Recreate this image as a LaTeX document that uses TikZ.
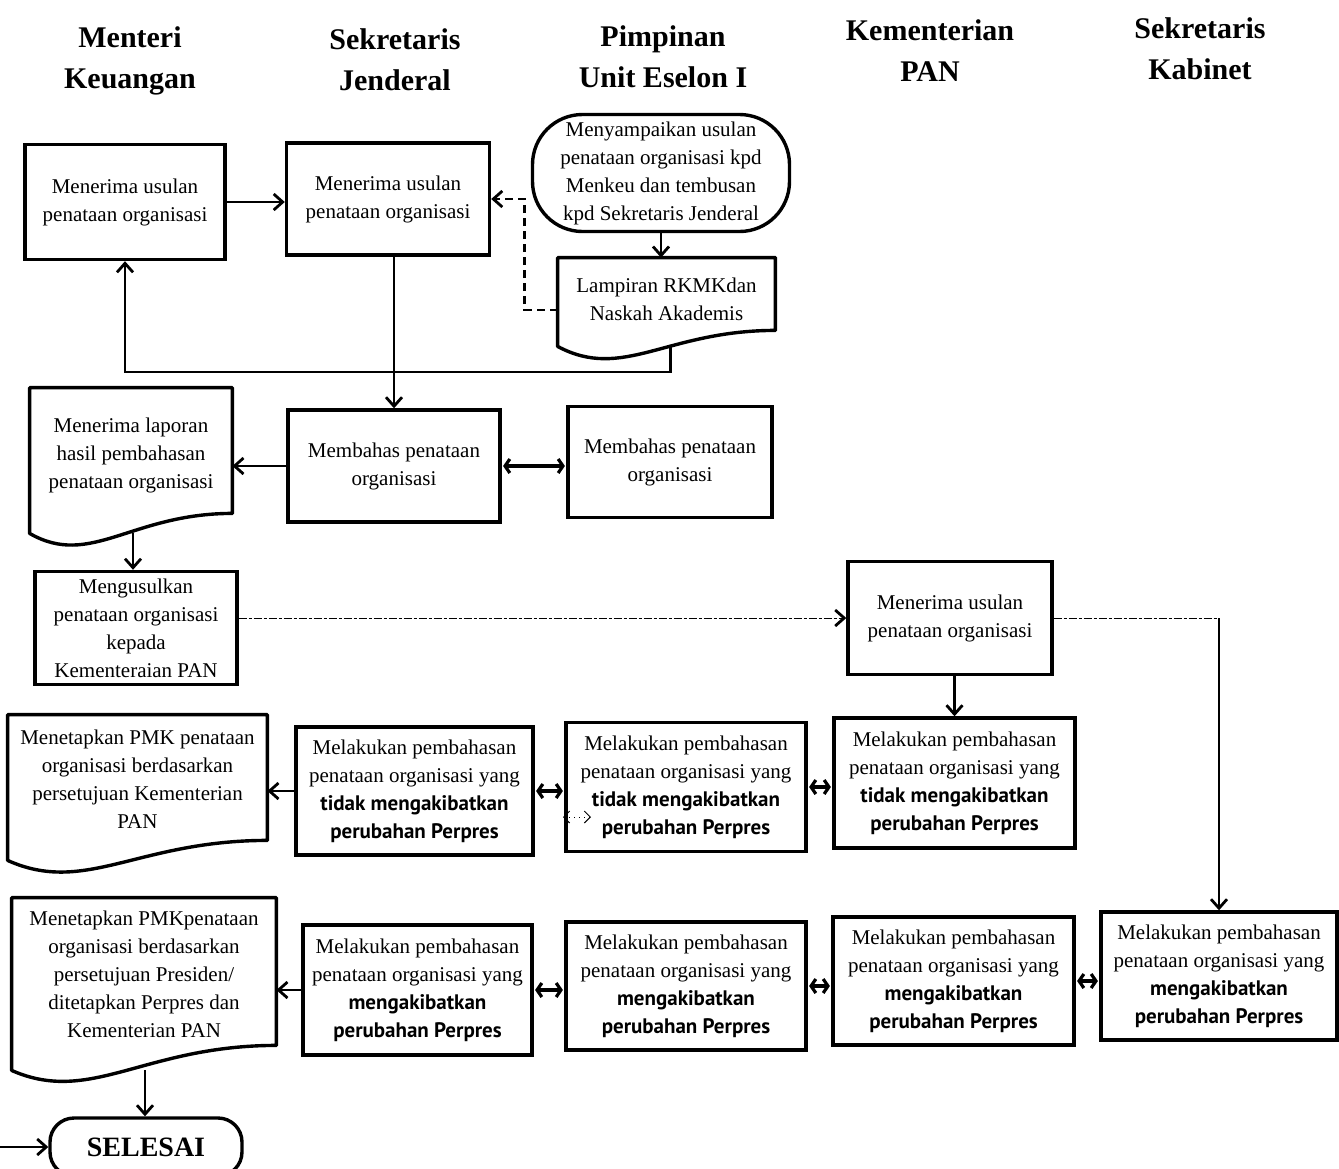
\documentclass[tikz,border=0pt]{standalone}
\usepackage{fontspec}
\setmainfont{Liberation Serif}
\newfontfamily\boldsans{PT Sans}
\usetikzlibrary{arrows.meta,calc}
\newcommand\docpath[3]{%
  \draw[docln] (#1.north west) -- (#1.north east) -- ($(#1.south east)+(0,#2-#3)$)
    .. controls ($(#1.south)+(0,#2-#3)$) and ($(#1.south west)!0.3!(#1.south east)+(0,#2+35)$)
    .. ($(#1.south west)+(0,#2)$) -- cycle;}
\newcommand\bs[1]{{\boldsans\bfseries #1}}
\begin{document}
\begin{tikzpicture}[x=0.5pt,y=-0.5pt,
  sz/.style 2 args={minimum width=#1*0.5pt, minimum height=#2*0.5pt},
  proc/.style={draw, line width=1.7pt, align=center, inner sep=0pt, font=\fontsize{10.5}{14}\selectfont},
  docn/.style={align=center, inner sep=0pt, font=\fontsize{10.5}{14}\selectfont},
  docln/.style={draw, line width=1.7pt, line join=round},
  hdr/.style={align=center, font=\fontsize{15}{20.5}\selectfont\bfseries},
  tip/.tip={Straight Barb[length=4.5pt,width=8pt,line width=1.4pt]},
  stip/.tip={Straight Barb[length=2.4pt,width=7pt,line width=1.6pt]},
  arr/.style={line width=1.1pt, -tip},
  darr/.style={line width=1.6pt, stip-stip, shorten <=0.7pt, shorten >=0.7pt},
  dasharr/.style={line width=1.3pt, dash pattern=on 4pt off 2.5pt, -tip},
  thindash/.style={line width=0.5pt, dash pattern=on 4pt off 1pt on 1.5pt off 1pt}
]
\fill[white] (0,0) rectangle (1339,1168);
\useasboundingbox (0,0) rectangle (1339,1168);

% headers
\node[hdr] (h1) at (130,61) {Menteri\\Keuangan};
\node[hdr] (h2) at (395,60) {Sekretaris\\Jenderal};
\node[hdr] (h3) at (663,57) {Pimpinan\\Unit Eselon I};
\node[hdr] (h4) at (930,51) {Kementerian\\PAN};
\node[hdr] (h5) at (1200,49) {Sekretaris\\Kabinet};

% row 1
\node[proc, sz={200}{115}] (mk1) at (125,202) {Menerima usulan\\penataan organisasi};
\node[proc, sz={203}{112}] (sj1) at (388,199) {Menerima usulan\\penataan organisasi};
\node[proc, rounded corners=25pt, sz={257}{117}] (term) at (661,173)
  {Menyampaikan usulan\\penataan organisasi kpd\\Menkeu dan tembusan\\kpd Sekretaris Jenderal};
\node[docn, sz={217}{82}] (lamp) at (666.5,299) {Lampiran RKMKdan\\Naskah Akademis};
\docpath{lamp}{6}{16}

% row 2
\node[docn, sz={202}{134}] (mk2) at (131,455) {Menerima laporan\\hasil pembahasan\\penataan organisasi};
\docpath{mk2}{11}{20}
\node[proc, sz={212}{112}] (sj2) at (394,466) {Membahas penataan\\organisasi};
\node[proc, sz={204}{111}] (pu2) at (670,462) {Membahas penataan\\organisasi};

% row 3
\node[proc, sz={202}{113}] (mk3) at (136,628) {Mengusulkan\\penataan organisasi\\kepada\\Kementeraian PAN};
\node[proc, sz={204}{113}] (kp1) at (950,618) {Menerima usulan\\penataan organisasi};

% row 4
\node[docn, sz={259}{128}] (mk4) at (137.5,779)
  {Menetapkan PMK penataan\\organisasi berdasarkan\\persetujuan Kementerian\\PAN};
\docpath{mk4}{17}{20}
\node[proc, sz={237}{128}] (sj4) at (414.5,791)
  {Melakukan pembahasan\\penataan organisasi yang\\\bs{tidak mengakibatkan}\\\bs{perubahan Perpres}};
\node[proc, sz={240}{129}] (pu4) at (686,787)
  {Melakukan pembahasan\\penataan organisasi yang\\\bs{tidak mengakibatkan}\\\bs{perubahan Perpres}};
\node[proc, sz={241}{130}] (kp4) at (954.5,783)
  {Melakukan pembahasan\\penataan organisasi yang\\\bs{tidak mengakibatkan}\\\bs{perubahan Perpres}};

% row 5
\node[docn, sz={264}{152}] (mk5) at (144,974)
  {Menetapkan PMKpenataan\\organisasi berdasarkan\\persetujuan Presiden/\\ditetapkan Perpres dan\\Kementerian PAN};
\docpath{mk5}{20}{25}
\node[proc, sz={229}{130}] (sj5) at (417.5,990)
  {Melakukan pembahasan\\penataan organisasi yang\\\bs{mengakibatkan}\\\bs{perubahan Perpres}};
\node[proc, sz={240}{128}] (pu5) at (686,986)
  {Melakukan pembahasan\\penataan organisasi yang\\\bs{mengakibatkan}\\\bs{perubahan Perpres}};
\node[proc, sz={241}{128}] (kp5) at (953.5,981)
  {Melakukan pembahasan\\penataan organisasi yang\\\bs{mengakibatkan}\\\bs{perubahan Perpres}};
\node[proc, sz={236}{128}] (sk5) at (1219,976)
  {Melakukan pembahasan\\penataan organisasi yang\\\bs{mengakibatkan}\\\bs{perubahan Perpres}};

\node[proc, rounded corners=12pt, sz={192}{58}, font=\fontsize{14}{16}\selectfont\bfseries] (end) at (146,1147) {SELESAI};

% coordinates
\coordinate (yl) at (0,372);
\coordinate (lampb) at ($(lamp.south)+(4,6)$);
\coordinate (lampw) at ($(lamp.west)+(0,11)$);
\coordinate (mk2b) at ($(mk2.south)+(2,11)$);
\coordinate (mk5b) at ($(mk5.south)+(1,20)$);
\coordinate (turn) at (sk5.north |- kp1.east);
\coordinate (lin) at (0,1147);
\coordinate (da1) at (563,817);
\coordinate (da2) at (591,817);

% connectors
\draw[arr] (mk1.east) -- (mk1.east -| sj1.west);
\draw[arr] (term.south) -- (term.south |- lamp.north);
\draw[dasharr] (lampw) -- ++(-33,0) |- (sj1.east);
\draw[arr] (lampb) -- (lampb |- yl) -| (mk1.south);
\draw[arr] (sj2.north |- sj1.south) -- (sj2.north);
\draw[arr] (sj2.west) -- (sj2.west -| mk2.east);
\draw[darr] (sj2.east) -- (sj2.east -| pu2.west);
\draw[arr] (mk2b) -- (mk2b |- mk3.north);
\draw[thindash, -tip] (kp1.west -| mk3.east) -- (kp1.west);
\draw[thindash] (kp1.east) -- (turn);
\draw[arr] (turn) -- (sk5.north);
\draw[arr] (kp1.south -| kp4.north) -- (kp4.north);
\draw[arr] (sj4.west) -- (sj4.west -| mk4.east);
\draw[darr] (sj4.east) -- (sj4.east -| pu4.west);
\draw[darr] (pu4.east) -- (pu4.east -| kp4.west);
\draw[line width=0.5pt, dotted, {Straight Barb[length=3pt,width=6pt]}-{Straight Barb[length=3pt,width=6pt]}] (da1) -- (da2);
\draw[arr] (sj5.west) -- (sj5.west -| mk5.east);
\draw[darr] (sj5.east) -- (sj5.east -| pu5.west);
\draw[darr] (pu5.east) -- (pu5.east -| kp5.west);
\draw[darr] (kp5.east) -- (kp5.east -| sk5.west);
\draw[arr] (mk5b) -- (mk5b |- end.north);
\draw[arr] (lin) -- (end.west);
\end{tikzpicture}
\end{document}
